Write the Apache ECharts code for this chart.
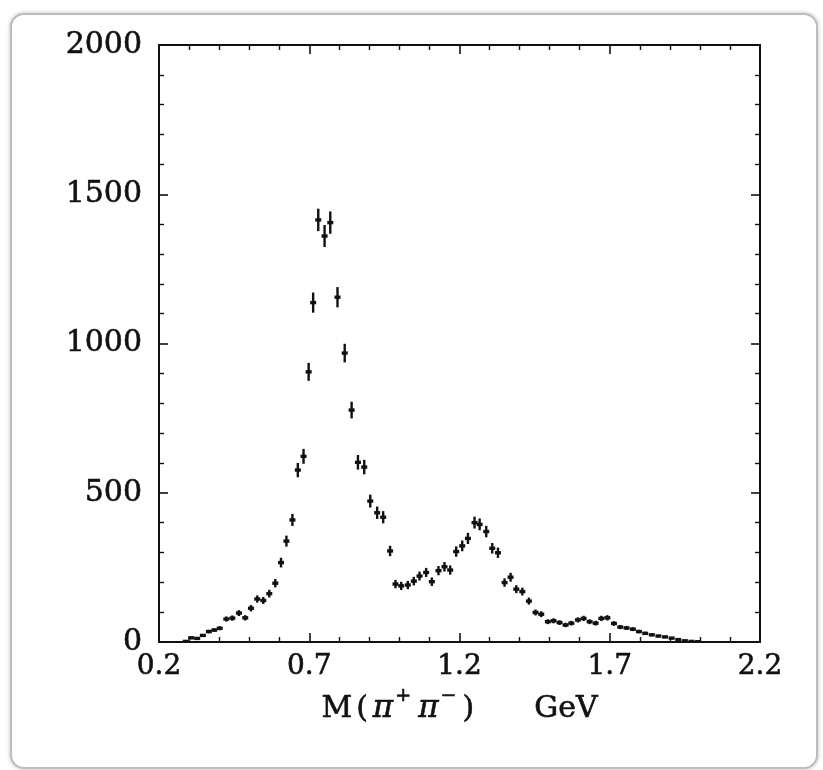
<!DOCTYPE html>
<html>
<head>
<meta charset="utf-8">
<script src="https://cdn.jsdelivr.net/npm/echarts@6/dist/echarts.min.js"></script>
<style>
  html, body { margin: 0; padding: 0; background: #ffffff; }
  #card {
    position: absolute; left: 10px; top: 13px; width: 804px; height: 752px;
    border: 2px solid #bdbdbd; border-radius: 14px;
    box-shadow: 0 0 4px rgba(0,0,0,0.25);
    background: #ffffff;
  }
  #chart { position: absolute; left: 0; top: 0; width: 823px; height: 770px; }
</style>
</head>
<body>
<div id="card"></div>
<div id="chart"></div>
<script>
// Invariant mass M(pi+ pi-) in GeV (bin centres)
const massGeV = [
  0.289, 0.307, 0.327, 0.346, 0.366, 0.384, 0.402, 0.424, 0.444, 0.466,
  0.487, 0.506, 0.527, 0.547, 0.567, 0.587, 0.606, 0.624, 0.644, 0.662,
  0.681, 0.698, 0.713, 0.730, 0.751, 0.770, 0.794, 0.818, 0.841, 0.862,
  0.883, 0.903, 0.926, 0.946, 0.969, 0.987, 1.006, 1.028, 1.048, 1.067,
  1.089, 1.108, 1.130, 1.150, 1.169, 1.189, 1.209, 1.228, 1.250, 1.267,
  1.289, 1.309, 1.328, 1.350, 1.370, 1.389, 1.409, 1.431, 1.453, 1.472,
  1.494, 1.513, 1.533, 1.553, 1.572, 1.594, 1.613, 1.633, 1.653, 1.672,
  1.692, 1.714, 1.735, 1.756, 1.777, 1.797, 1.818, 1.840, 1.862, 1.884,
  1.906, 1.928, 1.950, 1.972, 1.994
];
// Events per bin
const counts = [
  2, 14, 12, 22, 35, 40, 46, 77, 80, 97,
  81, 113, 144, 139, 162, 197, 266, 338, 409, 576,
  622, 905, 1137, 1414, 1360, 1405, 1155, 968, 777, 602,
  586, 472, 433, 418, 305, 194, 188, 191, 204, 221,
  233, 202, 239, 252, 241, 303, 322, 347, 400, 394,
  370, 314, 299, 199, 217, 177, 169, 137, 99, 93,
  68, 71, 65, 57, 63, 74, 79, 68, 63, 79,
  81, 62, 50, 47, 43, 35, 29, 24, 20, 17,
  13, 8, 4, 2, 1
];
const xTickLabels = ['0.2', '0.7', '1.2', '1.7', '2.2'];
const yTickLabels = ['0', '500', '1000', '1500', '2000'];
const xAxisStart = 0.2;     // first tick label value
const binHalfWidth = 0.01;  // GeV

const data = massGeV.map((m, i) => [m, counts[i]]);

const FONT = 'DejaVu Serif';
const INK = '#111111';

function frameAxis(extra) {
  return Object.assign({
    axisLine: { show: true, onZero: false, lineStyle: { color: INK, width: 2 } },
    axisTick: { show: true, inside: true, length: 9, lineStyle: { color: INK, width: 1.6 } },
    minorTick: { show: true, splitNumber: 5, length: 5, lineStyle: { color: INK, width: 1.4 } },
    splitLine: { show: false },
    minorSplitLine: { show: false }
  }, extra);
}

const txt = { fontFamily: FONT, color: INK, textBorderColor: INK, textBorderWidth: 0.6 };

const chart = echarts.init(document.getElementById('chart'), null, { renderer: 'canvas' });
chart.setOption({
  animation: false,
  backgroundColor: 'transparent',
  grid: { left: 159, right: 63, top: 45, bottom: 128, containLabel: false },
  xAxis: [
    frameAxis({
      type: 'value', position: 'bottom', min: 0, max: 2.0, interval: 0.5,
      axisLabel: Object.assign({
        show: true, margin: 11, fontSize: 28,
        formatter: function (v) { return xTickLabels[Math.round(v / 0.5)]; }
      }, txt),
      name: '{t|M}{t|(}{p|π}{s|+}{p|π}{s|−}{t|)}{g|}{t|GeV}',
      nameLocation: 'middle', nameGap: 44,
      nameTextStyle: {
        rich: {
          t: Object.assign({ fontSize: 30, lineHeight: 38, verticalAlign: 'bottom', padding: [0, 2, 0, 2] }, txt),
          p: Object.assign({ fontSize: 31, fontStyle: 'italic', lineHeight: 38, verticalAlign: 'bottom', padding: [0, 2, 0, 3] }, txt),
          s: Object.assign({ fontSize: 19, lineHeight: 38, verticalAlign: 'top', padding: [0, 4, 0, 0] }, txt),
          g: { width: 56 }
        }
      }
    }),
    frameAxis({
      type: 'value', position: 'top', min: 0, max: 2.0, interval: 0.5,
      axisLabel: { show: false }
    })
  ],
  yAxis: [
    frameAxis({
      type: 'value', position: 'left', min: 0, max: 2000, interval: 500,
      axisLabel: Object.assign({
        show: true, margin: 17, fontSize: 30,
        formatter: function (v) { return yTickLabels[Math.round(v / 500)]; }
      }, txt)
    }),
    frameAxis({
      type: 'value', position: 'right', min: 0, max: 2000, interval: 500,
      axisLabel: { show: false }
    })
  ],
  series: [{
    type: 'custom',
    xAxisIndex: 0, yAxisIndex: 0,
    clip: true,
    data: data,
    renderItem: function (params, api) {
      const m = api.value(0) - xAxisStart;
      const v = api.value(1);
      const e = Math.sqrt(v);
      const c = api.coord([m, v]);
      const top = api.coord([m, v + e]);
      const bot = api.coord([m, Math.max(v - e, 0)]);
      const l = api.coord([m - binHalfWidth, v]);
      const r = api.coord([m + binHalfWidth, v]);
      return {
        type: 'group',
        children: [
          { type: 'line', shape: { x1: c[0], y1: top[1], x2: c[0], y2: bot[1] },
            style: { stroke: INK, lineWidth: 2.4 } },
          { type: 'line', shape: { x1: l[0], y1: c[1], x2: r[0], y2: c[1] },
            style: { stroke: INK, lineWidth: 3.4 } }
        ]
      };
    }
  }]
});
</script>
</body>
</html>
